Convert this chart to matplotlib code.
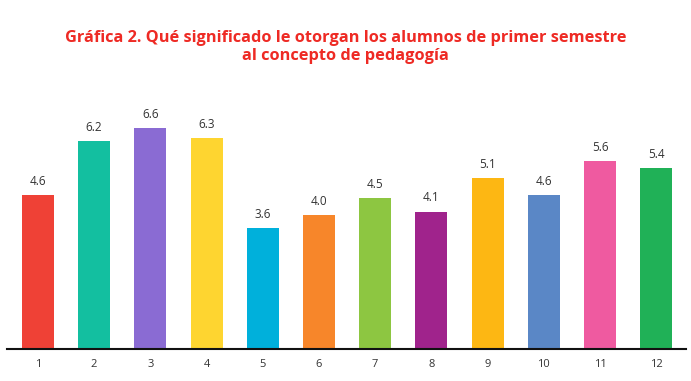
import matplotlib
matplotlib.use("Agg")
import matplotlib.pyplot as plt

categories = [str(i) for i in range(1, 13)]
values = [4.6, 6.2, 6.6, 6.3, 3.6, 4.0, 4.5, 4.1, 5.1, 4.6, 5.6, 5.4]
colors = ["#ef4136", "#13bfa0", "#8a6bd3", "#fed530", "#00b0db", "#f7862a",
          "#8dc641", "#a0238c", "#fdb713", "#5a87c6", "#ef5aa0", "#20b157"]

fig = plt.figure(figsize=(6.91, 3.81), dpi=100)
ax = fig.add_axes([7 / 691, 32 / 381, 679 / 691, 269 / 381])

x = list(range(1, 13))
bars = ax.bar(x, values, width=0.57, color=colors)
for xi, v in zip(x, values):
    ax.text(xi, v + 0.22, f"{v:.1f}", ha="center", va="bottom",
            fontsize=8.5, color="#333333", family="Open Sans")

ax.set_xlim(0.45, 12.53)
ax.set_ylim(0, 8.03)
ax.set_xticks(x)
ax.set_xticklabels(categories, fontsize=8, color="#333333", family="Open Sans")
ax.tick_params(axis="x", length=0, pad=7)
ax.set_yticks([])
for s in ["top", "right", "left"]:
    ax.spines[s].set_visible(False)
ax.spines["bottom"].set_linewidth(1.5)
ax.spines["bottom"].set_color("#111111")

fig.text(0.5, 1 - 47 / 381,
         "Gráfica 2. Qué significado le otorgan los alumnos de primer semestre\nal concepto de pedagogía",
         ha="center", va="center", fontsize=11.8, fontweight="bold",
         color="#ee2a24", family="Open Sans", linespacing=1.2)

fig.savefig("out.png", dpi=100)
